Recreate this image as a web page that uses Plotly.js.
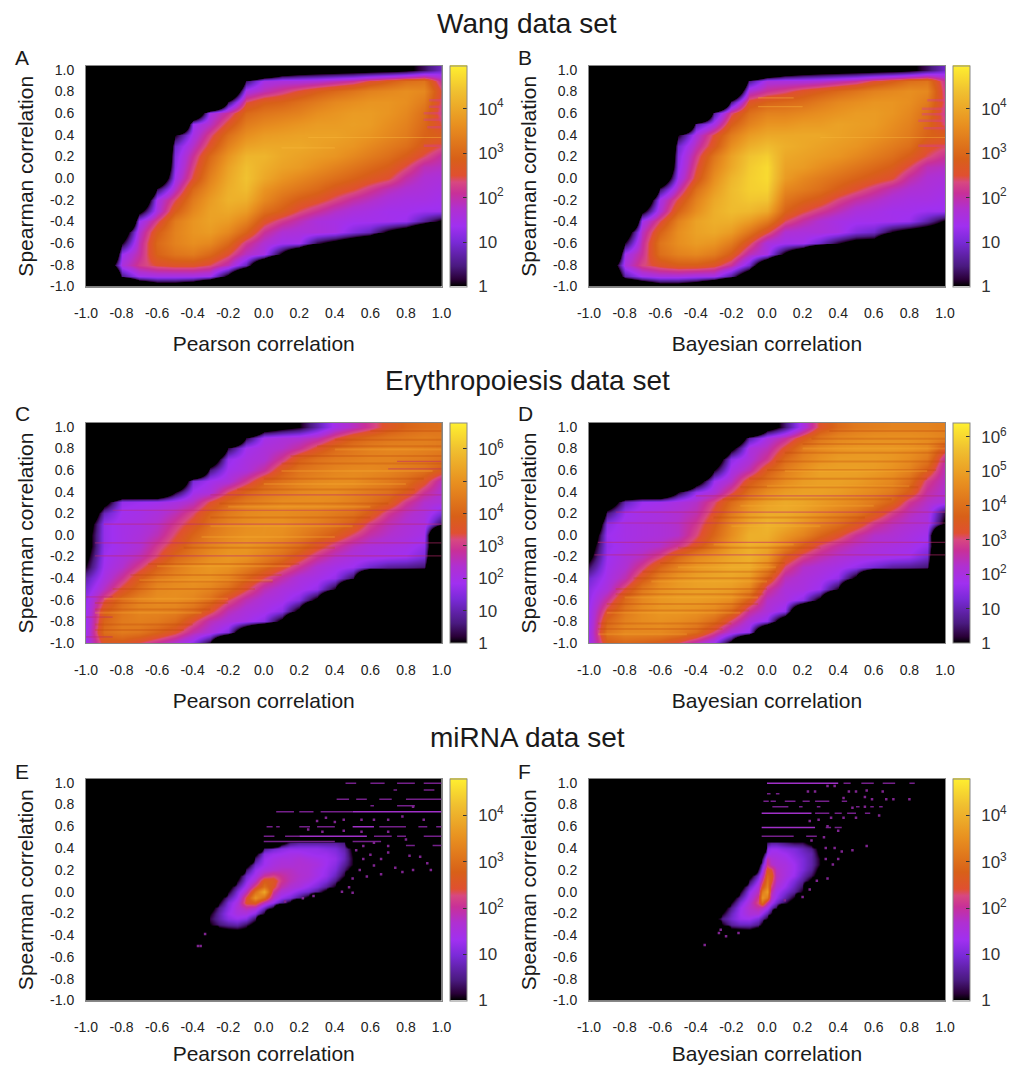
<!DOCTYPE html>
<html><head><meta charset="utf-8">
<script src="https://cdn.plot.ly/plotly-3.0.1.min.js"></script>
<style>html,body{margin:0;padding:0;background:#fff}#c{width:1023px;height:1065px}</style>
</head><body><div id="c"></div>
<script>
const N=-6,M=-4;
const n=k=>Array(k).fill(N), m=k=>Array(k).fill(M);
const axisVals=[-1,-.8,-.6,-.4,-.2,0,.2,.4,.6,.8,1];
const axisText=["-1.0","-0.8","-0.6","-0.4","-0.2","0.0","0.2","0.4","0.6","0.8","1.0"];
const gridX=[-1,-.9,-.8,-.7,-.6,-.5,-.4,-.3,-.2,-.1,0,.1,.2,.3,.4,.5,.6,.7,.8,.9,1];
const gridY=[1,.9,.8,.7,.6,.5,.4,.3,.2,.1,0,-.1,-.2,-.3,-.4,-.5,-.6,-.7,-.8,-.9,-1];
// log10(count), rows from y=1.0 down to y=-1.0; N = empty cell
const zA=[
[...n(10),-3.5,-1.5,-1,-.8,-.7,-.6,-.5,-.4,-.2,.3,.9],
[...n(9),.3,1.5,1.6,1.6,1.7,1.9,2.1,2.5,2.8,3.1,3.2,2],
[...n(8),-2.8,1.5,1.9,2.2,2.5,2.8,3,3.2,3.4,3.5,3.6,3.5,2.4],
[...n(8),.2,2.4,2.8,2.9,3.1,3.3,3.5,3.6,3.7,3.7,3.6,3.3,2.3],
[...n(6),-2.25,1.5,2.1,3,3.2,3.3,3.4,3.6,3.7,3.8,3.8,3.7,3.5,3.1,2.2],
[...n(5),-5.2,1.3,1.8,2.6,3.3,3.5,3.6,3.7,3.8,3.8,3.85,3.8,3.6,3.4,3,2.4],
[...n(5),0,1.5,2.3,3.1,3.6,3.8,3.85,3.9,3.9,3.9,3.8,3.7,3.5,3.3,2.9,2.8],
[...n(4),-5.1,.9,1.8,2.6,3.4,3.9,4,4,4,3.9,3.8,3.7,3.5,3.3,3.1,2.7,2.4],
[...n(4),-4.4,1.1,2.1,3,3.7,4.2,4.2,4,3.9,3.8,3.7,3.5,3.3,3.1,2.8,2.4,2],
[...n(4),-3.6,1.2,2.3,3.2,3.9,4.35,4.1,3.9,3.8,3.6,3.4,3.2,3,2.8,2.4,1.9,1.8],
[...n(4),-2.1,1.4,2.5,3.4,4,4.4,4,3.7,3.5,3.3,3.1,2.9,2.7,2.5,2,1.7,1.6],
[...n(4),.2,1.8,3,3.6,4.1,4.3,3.7,3.4,3.2,3,2.7,2.5,2.2,1.9,1.7,1.6,1.5],
[...n(3),-2.25,1.5,2.4,3.3,3.8,4.15,4.1,3.5,3.1,2.8,2.6,2.3,2,1.8,1.6,1.5,1.5,1.4],
[...n(3),-.4,1.6,2.8,3.5,3.9,4,3.8,3.1,2.8,2.4,2.1,1.8,1.6,1.5,1.4,1.4,1.3,1.3],
[...n(2),-5.2,1.3,2.3,3.3,3.7,3.9,3.8,3.4,2.6,2.2,1.9,1.6,1.5,1.4,1.4,1.4,1.3,.6,-.15],
[...n(2),-1.1,1.7,2.8,3.4,3.7,3.8,3.5,2.9,2.1,1.7,1.6,1.6,1.5,1.1,.8,-.15,-.9,-2.4,N],
[...n(2),0,1.9,3,3.4,3.6,3.5,3,2.2,1.7,1.4,1.4,.2,-.4,-1.1,-1.9,...n(4)],
[N,-5.2,1.3,2,2.9,3.2,3.3,3,2.5,1.8,1.5,-.15,-2.1,...n(8)],
[N,-2,1.6,2.2,2.5,2.6,2.6,2.4,1.9,.8,-2.25,...n(10)],
[N,N,.5,1.4,1.5,1.5,1.5,1.4,-.2,-3.2,...n(11)],
[N,N,N,-2.1,-1,-1,-1.5,-3.3,...n(13)]];
const zB=[
[...n(10),-3,-1.5,-1,-.8,-.7,-.6,-.5,-.4,-.2,.3,.9],
[...n(9),.5,1.6,1.6,1.6,1.7,1.9,2.1,2.5,2.8,3.1,3.2,2.1],
[...n(8),-3,1.7,2.1,2.3,2.6,2.8,3,3.2,3.4,3.5,3.6,3.5,2.2],
[...n(8),.4,2.6,2.9,3,3.1,3.3,3.5,3.6,3.7,3.7,3.6,3.3,2.3],
[...n(7),.6,2.3,3.1,3.4,3.4,3.5,3.6,3.7,3.8,3.8,3.7,3.5,3.1,2.2],
[...n(6),.6,1.5,2.8,3.4,3.7,3.7,3.8,3.8,3.9,3.85,3.8,3.6,3.4,3,2.3],
[...n(5),0,1.6,2.5,3.3,3.8,4,4,4,4,3.9,3.8,3.7,3.5,3.3,2.9,2.8],
[...n(4),-5.1,.9,1.9,2.7,3.6,4.1,4.3,4.1,4,3.9,3.8,3.7,3.5,3.3,3.1,2.6,2.4],
[...n(4),-4.4,1.1,2.2,3.2,3.9,4.4,4.55,4,3.9,3.8,3.7,3.5,3.3,3.1,2.8,2.4,2.1],
[...n(4),-3.6,1.2,2.4,3.4,4,4.5,4.7,3.9,3.8,3.6,3.4,3.2,3,2.8,2.4,1.9,1.8],
[...n(4),-1.8,1.4,2.6,3.6,4.2,4.55,4.7,3.8,3.5,3.3,3.1,2.9,2.7,2.5,2,1.7,1.6],
[...n(4),.3,1.9,3.1,3.8,4.3,4.55,4.6,3.5,3.3,3.1,2.8,2.5,2.2,1.9,1.7,1.6,1.5],
[...n(3),-2,1.5,2.5,3.4,4,4.3,4.45,4.4,3.2,2.9,2.7,2.3,2,1.8,1.6,1.5,1.5,1.4],
[...n(3),-.3,1.7,2.9,3.6,4.1,4.3,4.25,4,2.9,2.5,2.2,1.9,1.6,1.5,1.4,1.4,1.3,1.3],
[...n(2),-5.2,1.4,2.4,3.4,3.9,4.1,4.1,3.8,3.3,2.4,2,1.7,1.5,1.4,1.4,1.4,1.3,.7,-.1],
[...n(2),-1,1.8,2.9,3.6,3.9,4,3.8,3.2,2.5,1.7,1.6,1.6,1.5,1.1,.9,0,-.5,-.8,-1],
[...n(2),.1,2,3.2,3.6,3.8,3.7,3.3,2.5,1.6,1.4,1.4,.9,.1,-.5,-.6,-3,N,N,N],
[N,-5,1.4,2.1,3.1,3.4,3.5,3.3,2.8,1.9,1.5,-.2,-1.8,...n(8)],
[N,-1.8,1.6,2.3,2.6,2.8,2.8,2.6,2.1,1,-1.8,...n(10)],
[N,-3,.7,1.4,1.6,1.6,1.5,1.5,.6,-1.2,...n(11)],
[N,N,-3,-1.8,-.8,-.8,-1.3,-2.8,-5,...n(12)]];
const zC=[
[...n(10),-1.3,-.5,0,1,2,2.5,3,3.6,4,4.2,4.3],
[...n(9),.2,2,2.2,2.3,2.6,3.3,3.9,4.2,4.4,4.5,4.6,4.5],
[...n(8),.2,1.9,2.2,2.4,2.8,3.5,4.1,4.4,4.6,4.7,4.7,4.6,4.5],
[...n(7),-1.7,1.7,2.1,2.3,3,3.9,4.3,4.5,4.6,4.7,4.7,4.6,4.5,4.3],
[...n(6),-5.4,.6,1.9,2.2,2.8,3.8,4.3,4.5,4.7,4.8,4.8,4.7,4.5,4.3,3.8],
[...n(5),-3.3,1.4,1.9,2.2,3,3.9,4.3,4.6,4.8,4.9,4.9,4.7,4.5,4.2,3.6,2.5],
[N,N,-3,-3,-3,0,1.9,2.2,3.3,4,4.4,4.6,4.8,4.9,4.9,4.7,4.5,4.3,3.8,2.9,2.3],
[N,-.7,1.7,1.8,1.9,2.1,2.5,3.4,4.1,4.5,4.7,4.9,4.9,4.9,4.8,4.6,4.3,3.9,3,2.4,2.2],
[-2.6,1.1,1.9,2,2.2,2.6,3.2,4,4.5,4.8,4.9,4.9,4.8,4.7,4.5,4.3,3.8,3,2.5,2.2,1.4],
[-1.1,1.7,2,2.1,2.4,3,3.6,4.3,4.7,4.9,5,5,4.8,4.6,4.3,3.9,3.1,2.6,2.3,2.1,.3],
[-.7,1.7,2,2.2,2.6,3.3,4,4.5,4.8,5,5,4.9,4.6,4.2,3.8,3.2,2.7,2.4,2.2,2,N],
[-.7,1.7,2,2.3,3,3.6,4.3,4.7,5,5.1,4.9,4.6,4.2,3.6,3,2.5,2.2,2.1,2,1.7,-4.8],
[-.3,1.8,2.2,2.6,3.3,4.1,4.5,4.9,5.1,5,4.6,4.2,3.6,2.9,2.4,2.1,2,1.9,1.8,1.4,N],
[.1,1.9,2.4,3.1,3.9,4.5,4.9,5.1,5,4.6,4.1,3.5,2.9,2.3,2,1.8,1.2,.8,.7,.5,N],
[1,2.1,2.9,3.8,4.5,4.8,5,5,4.7,4,3.3,2.7,2.2,2,1.7,.3,N,-3.2,-3.2,-3.2,N],
[1.4,2.5,3.5,4.2,4.8,4.9,4.9,4.7,4.2,3.4,2.6,2.2,2,1.7,0,...n(6)],
[1.7,3.3,4.2,4.7,4.9,4.9,4.7,4.2,3.3,2.6,2.2,2,1.5,-.4,...n(7)],
[1.8,3.8,4.4,4.7,4.7,4.6,4.2,3.5,2.6,2.2,2,1.6,-.4,...n(8)],
[1.8,4,4.5,4.6,4.5,4.2,3.4,2.6,2.2,2,1.6,-.4,...n(9)],
[1.9,4.2,4.5,4.4,4,3.5,2.7,2.2,1.5,-2.25,...n(11)],
[1.9,3.6,3.7,3.3,2.8,2.3,1.6,0,...n(13)]];
const zD=[
[...n(10),-.9,.5,2,3.3,3.9,4.2,4.3,4.4,4.4,4.4,4.3],
[...n(8),-3.2,.8,2,2.6,3.5,4.2,4.5,4.6,4.7,4.7,4.7,4.6,4.4],
[...n(8),-.5,2,2.4,3.3,4.2,4.5,4.7,4.8,4.8,4.8,4.7,4.5,3.4],
[...n(7),-1.5,1.5,2.1,2.8,3.9,4.4,4.7,4.9,4.9,4.9,4.8,4.6,4.2,2.6],
[...n(7),0,1.9,2.5,3.6,4.3,4.7,5,5,5,4.9,4.7,4.4,3.6,2.4],
[...n(6),-1.1,1.7,2.3,3.5,4.1,4.6,4.9,5,5,4.9,4.7,4.5,4,2.9,2.3],
[N,N,-3,-3,-3,0,1.6,2.1,3,4,4.6,4.9,5,5,4.9,4.7,4.5,4.2,3.6,2.6,2.2],
[N,-1.5,1,1.7,1.8,2,2.3,3,3.9,4.6,5,5.2,5.1,4.9,4.7,4.5,4.2,3.7,2.8,2.3,2],
[N,.5,1.7,1.9,2,2.2,2.5,3.3,4.2,4.9,5.2,5.2,5,4.7,4.4,4.1,3.6,2.9,2.4,2.1,.2],
[-3.5,1.5,1.9,2,2.1,2.3,2.8,3.6,4.5,5.1,5.4,5.2,4.8,4.4,4,3.5,2.8,2.4,2.2,2,-.3],
[-1.7,1.7,1.9,2,2.1,2.3,3,3.8,4.6,5.3,5.3,4.8,4.4,3.8,3.3,2.7,2.3,2.2,2,1.8,N],
[-.8,1.6,1.9,2.1,2.3,2.8,3.4,4.2,4.9,5.3,5.1,4.4,3.6,3,2.6,2.3,2.1,2,1.9,1.6,-5],
[-.3,1.7,2.1,2.4,3,3.9,4.5,4.8,5.1,5.3,4.9,3.6,2.9,2.5,2.2,2,1.9,1.8,1.7,1.2,N],
[.4,1.8,2.2,2.9,3.8,4.4,4.8,5,5.2,5.2,4.5,3,2.3,2.1,1.9,1.6,1.2,.8,.7,.5,N],
[1.2,1.9,2.5,3.5,4.4,4.8,5,5.1,5.1,4.9,3.7,2.4,2.1,1.9,1.6,-.3,N,-3.2,-3.2,-3.2,N],
[1.5,2.1,3.2,4.2,4.7,4.9,5,5,4.9,4.5,2.8,2.1,2,1.7,0,...n(6)],
[1.6,2.7,3.9,4.5,4.8,4.9,4.9,4.8,4.6,3.6,2.3,2,1.5,-.4,...n(7)],
[1.7,3.3,4.2,4.6,4.8,4.8,4.7,4.5,3.9,2.7,2.1,1.6,-3.7,...n(8)],
[1.7,3.8,4.4,4.6,4.7,4.6,4.4,3.9,3,2.1,1.6,-1.6,...n(9)],
[1.8,4.1,4.5,4.5,4.5,4.3,3.9,3,2.1,1.6,-3.7,...n(10)],
[1.8,3.6,3.8,3.7,3.5,3.1,2.4,1.7,-.4,...n(12)]];
const blobYE=[.5,.45,.4,.35,.3,.25,.2,.15,.1,.05,0,-.05,-.1,-.15,-.2,-.25,-.3,-.35,-.4];
const blobXE=[-.35,-.3,-.25,-.2,-.15,-.1,-.05,0,.05,.1,.15,.2,.25,.3,.35,.4,.45,.5];
const zE=[
m(18),
[...m(9),-.5,.4,.6,.6,.6,.6,.6,.4,M],
[...m(7),.5,.9,1.1,1.2,1.2,1.2,1.2,1.1,1,.7,-.2],
[...m(6),-.3,1.1,1.25,1.3,1.4,1.4,1.3,1.25,1.25,1.1,.8,-.1],
[...m(6),.4,1.25,1.4,1.5,1.5,1.6,1.5,1.4,1.3,1.2,.8,0],
[...m(5),-.5,.9,1.3,1.5,1.6,1.6,1.65,1.6,1.5,1.3,1.1,.6,0],
[...m(5),.3,1.2,1.5,1.65,1.75,1.75,1.65,1.6,1.4,1.25,1,.4,-.4],
[...m(4),-.4,.9,1.4,2,2.2,2,1.8,1.7,1.6,1.4,1.2,.8,.1,M],
[...m(4),0,1.1,1.7,2.7,2.6,2.1,1.8,1.65,1.5,1.25,1,.5,-.4,M],
[...m(3),-.4,.6,1.4,2.3,3,2.5,1.9,1.65,1.5,1.25,1,.6,0,M,M],
[...m(3),0,1,1.8,3,3.9,2.1,1.6,1.4,1.1,.9,.5,-.3,M,M,M],
[M,M,-.4,.6,1.25,2.4,3.6,3,1.75,1.25,1,.5,-.2,...m(5)],
[M,M,0,1,1.5,2.5,2.7,1.8,1.25,.6,-.2,...m(7)],
[M,-.4,.5,1.1,1.6,1.9,1.75,.9,0,...m(9)],
[M,0,.7,1.25,1.5,1.5,1.1,0,...m(10)],
[M,.2,.7,1.1,1.25,1.1,.3,...m(11)],
[-.4,0,.4,.6,.7,.3,-.4,...m(11)],
[M,M,-.3,-.1,0,-.2,...m(12)],
m(18)];
const blobYF=blobYE;
const blobXF=[-.3,-.25,-.2,-.15,-.1,-.05,-.025,0,.025,.05,.1,.15,.2,.25,.3,.35];
const zF=[
m(16),
[...m(7),.3,.6,.6,.4,.2,.2,-.3,M,M],
[...m(7),1.1,1.25,1.25,1.1,1,.8,.5,-.3,M],
[...m(6),-.5,1.25,1.4,1.4,1.3,1.1,.9,.7,-.2,M],
[...m(6),.2,1.9,1.6,1.5,1.4,1.2,1,.7,0,M],
[...m(5),-.5,.9,2.1,1.75,1.6,1.5,1.3,1,.7,0,M],
[...m(5),.1,1.3,2.6,2.4,1.75,1.5,1.3,1,.6,-.3,M],
[...m(4),-.4,.9,1.7,2.9,2.7,1.8,1.5,1.25,.8,.3,-.5,M],
[...m(4),.2,1.25,2.1,3.1,2.5,1.75,1.4,1,.6,-.2,M,M],
[...m(3),-.5,.8,1.6,2.6,3.3,2.2,1.6,1.25,.8,.3,M,M,M],
[...m(3),0,1.2,1.8,3.2,3.7,1.9,1.4,1,.6,0,M,M,M],
[M,M,-.5,.6,1.4,2.1,3.6,3.2,1.7,1.25,.7,0,...m(4)],
[M,M,0,1,1.6,2.3,3,2,1.4,.9,.2,-.5,...m(4)],
[M,-.5,.5,1.25,1.7,1.9,1.8,1.4,.8,.2,...m(6)],
[M,0,.8,1.3,1.6,1.6,1.2,.7,0,...m(7)],
[-.5,.5,.9,1.25,1.3,1,.6,0,...m(8)],
[M,0,.6,.8,.8,.5,-.2,...m(9)],
[M,M,-.2,-.1,0,-.5,...m(10)],
m(16)];

// streak rows: y level and start/end of each run
const aLightY=[.375,.28],aLightX0=[.25,.1],aLightX1=[1,.4];
const aPinkY=[.72,.66,.6,.54,.47,.3],aPinkX0=[.93,.93,.9,.9,.92,.9],aPinkX1=[1,1,1,1,1,1];
const bLightY=[.375,.74,.66],bLightX0=[.3,-.05,-.05],bLightX1=[1,.15,.2];
const bPinkY=[.72,.64,.59,.53,.46,.3],bPinkX0=[.9,.87,.87,.85,.88,.85],bPinkX1=[1,1,1,1,1,1];
const cPinkY=[.228,.1,-.074,-.194,-.574,-.76,-.944,.68,.61,.37],cPinkX0=[-.85,-.9,-.95,-.95,-1,-1,-1,.75,.7,-.3],cPinkX1=[1,1,1,1,-.85,-.85,-.85,1,1,1];
const cDarkY=[.96,.88,.82,.73,.66,.52,.42,.29,.16,-.12,-.27,-.37,-.43,-.5,-.63,-.69,-.83,-.88],cDarkX0=[.6,.4,.3,.15,.1,0,-.15,-.25,-.3,-.45,-.65,-.75,-.7,-.85,-.95,-.95,-.95,-.95],cDarkX1=[1,1,1,1,1,.9,.85,.7,.6,.4,.2,.1,.05,-.05,-.2,-.3,-.4,-.45];
const cLightY=[.79,.59,.47,.26,.08,-.02,-.29,-.42,-.59,-.72],cLightX0=[.4,.1,0,-.2,-.3,-.35,-.6,-.7,-.9,-.95],cLightX1=[1,.95,.8,.6,.5,.4,.15,.05,-.2,-.35];
const dPinkY=[.21,.11,-.07,-.185,.36],dPinkX0=[-.85,-.9,-.95,-.97,-.4],dPinkX1=[1,1,1,1,1];
const dDarkY=[.96,.89,.84,.76,.68,.6,.52,.44,.33,.16,-.12,-.26,-.34,-.4,-.5,-.55,-.64,-.7,-.82,-.87],dDarkX0=[.35,.25,.2,.1,.05,0,-.1,-.15,-.25,-.3,-.5,-.6,-.7,-.75,-.85,-.85,-.9,-.9,-.95,-.95],dDarkX1=[1,1,1,1,1,.95,.9,.85,.7,.55,.3,.1,.05,.03,0,-.02,-.05,-.1,-.2,-.25];
const dLightY=[.8,.59,.45,.27,.08,-.09,-.3,-.43,-.58,-.72,-.92],dLightX0=[.2,.1,0,-.15,-.2,-.3,-.5,-.65,-.8,-.9,-.95],dLightX1=[1,.9,.8,.6,.3,.15,.05,0,-.05,-.15,-.45];

const eRunY=[.735,.735,.735,.596,.596,.596,.596,.596,.596,.596,.51,.51,.51,.51,.51,.46,.46,.425,.425,.85,.85,.85,.85,.995,.995,.995,.995,.935,.935,.79,.79];
const eRunX0=[.07,.2,.32,.016,.07,.2,.3,.65,.87,.97,0,.12,.62,.75,.9,0,.5,.8,.95,.41,.52,.65,.8,.46,.6,.75,.9,.73,.9,.6,.75];
const eRunX1=[.17,.28,.5,.05,.09,.26,.4,.8,.92,1,.06,.2,.72,.8,1,.4,.66,.85,1,.48,.58,.72,1,.52,.68,.85,1,.75,.96,.62,.85];
const eBrightY=[.735,.596,.51],eBrightX0=[.5,.5,.2],eBrightX1=[1,.62,.58];
const eDotX=[.52,.56,.6,.62,.66,.7,.74,.78,.84,.88,.92,.94,.82,.66,.58,.54,.5,.48,.44,.5,.28,.22,.12,.62,.7,.78,.84,.9,.55,.45,.4,.35,.3,.33,.45,.55,.7,.8,.62,.56,.7,.25,-.37,-.355,-.33];
const eDotY=[.38,.3,.34,.24,.3,.36,.22,.18,.2,.32,.26,.2,.33,.16,.14,.2,.12,.04,0,-.01,-.04,-.06,-.09,.66,.66,.69,.78,.66,.66,.66,.64,.68,.65,.55,.56,.55,.55,.48,.45,.42,.42,.57,-.5,-.5,-.39];
const fRunY=[.995,.995,.995,.995,.72,.72,.72,.72,.59,.59,.51,.51,.83,.83,.83,.83,.83,.83,.78,.78,.78,.78,.78,.78,.9,.9];
const fRunX0=[.43,.53,.65,.8,.27,.38,.45,.55,.33,.38,-.03,.22,-.02,.02,.1,.2,.27,.42,.03,.18,.28,.5,.58,.63,0,.05];
const fRunX1=[.47,.6,.72,.83,.35,.42,.5,.58,.36,.42,.15,.28,.01,.05,.16,.24,.35,.45,.12,.2,.3,.52,.6,.65,.02,.07];
const fBrightY=[.995,.72,.59],fBrightX0=[0,-.03,-.03],fBrightX1=[.4,.25,.27];
const fDotX=[.23,.27,.34,.38,.46,.5,.56,.55,.65,.43,.59,.67,.71,.8,.48,.55,.63,.5,.43,.36,.29,.24,.34,.4,.32,.25,.33,.38,.48,.56,.42,.4,.33,.37,.34,.24,.28,.2,.1,-.35,-.26,-.27,-.23,-.16];
const fDotY=[.92,.92,.97,.97,.92,.92,.93,.87,.92,.86,.85,.85,.85,.85,.77,.78,.7,.68,.68,.68,.66,.65,.6,.56,.5,.47,.4,.4,.38,.42,.37,.3,.3,.25,.12,.02,.1,-.05,-.08,-.49,-.35,-.38,-.41,-.38];

const colorStops=[[0,'#000000'],[.03,'#2a0038'],[.09,'#4a1a80'],[.2,'#7a2ad8'],[.27,'#a030f0'],[.35,'#b030d0'],[.42,'#c83098'],[.47,'#d84880'],[.5,'#e05030'],[.575,'#d86018'],[.73,'#e89020'],[.88,'#f0c030'],[1,'#fff030']];
const W=1023,H=1065;
const family='Liberation Sans, Arial, sans-serif';
const titleFont={family,size:21,color:'#1a1a1a'};
const tickFont={family,size:14,color:'#222'};
const cbGap='\u2009\u2009';
const cbText=['1','10','10<sup>2</sup>','10<sup>3</sup>','10<sup>4</sup>','10<sup>5</sup>','10<sup>6</sup>'];
const panels=[
 {l:86,r:441.5,t:66,b:286.5,cb:450,x:gridX,y:gridY,z:zA,zmax:4.97,xt:'Pearson correlation',tag:'A',tx:13,ty:58},
 {l:589,r:945,t:66,b:286.5,cb:952.5,x:gridX,y:gridY,z:zB,zmax:4.97,xt:'Bayesian correlation',tag:'B',tx:516,ty:58},
 {l:86,r:441.5,t:423,b:643,cb:450,x:gridX,y:gridY,z:zC,zmax:6.8,xt:'Pearson correlation',tag:'C',tx:13,ty:414},
 {l:589,r:945,t:423,b:643,cb:952.5,x:gridX,y:gridY,z:zD,zmax:6.4,xt:'Bayesian correlation',tag:'D',tx:516,ty:414},
 {l:86,r:441.5,t:779,b:1000.5,cb:450,x:blobXE,y:blobYE,z:zE,zmax:4.8,xt:'Pearson correlation',tag:'E',tx:13,ty:771},
 {l:589,r:945,t:779,b:1000.5,cb:952.5,x:blobXF,y:blobYF,z:zF,zmax:4.8,xt:'Bayesian correlation',tag:'F',tx:516,ty:771}];
const data=[],layout={width:W,height:H,paper_bgcolor:'#fff',plot_bgcolor:'#000',showlegend:false,margin:{l:0,r:0,t:0,b:0,autoexpand:false},annotations:[]};
function runs(ys,x0,x1,color,width,ax,ay){
  const X=[],Y=[];ys.forEach((v,i)=>{X.push(x0[i],x1[i],null);Y.push(v,v,null);});
  data.push({type:'scatter',mode:'lines',x:X,y:Y,xaxis:ax,yaxis:ay,line:{color,width},hoverinfo:'skip',connectgaps:false});
}
function dots(xs,ys,ax,ay){
  data.push({type:'scatter',mode:'markers',x:xs,y:ys,xaxis:ax,yaxis:ay,marker:{symbol:'square',size:2.5,color:'#7f2490'},hoverinfo:'skip'});
}
const overlay=[
 ()=>{runs(aLightY,aLightX0,aLightX1,'rgba(250,185,60,.45)',1.2,'x','y');runs(aPinkY,aPinkX0,aPinkX1,'rgba(215,60,150,.4)',2.5,'x','y');},
 ()=>{runs(bLightY,bLightX0,bLightX1,'rgba(250,185,60,.4)',1.2,'x2','y2');runs(bPinkY,bPinkX0,bPinkX1,'rgba(215,60,150,.4)',2.5,'x2','y2');},
 ()=>{runs(cDarkY,cDarkX0,cDarkX1,'rgba(190,70,10,.28)',2,'x3','y3');runs(cLightY,cLightX0,cLightX1,'rgba(250,180,50,.25)',2,'x3','y3');runs(cPinkY,cPinkX0,cPinkX1,'rgba(190,40,110,.5)',1.2,'x3','y3');},
 ()=>{runs(dDarkY,dDarkX0,dDarkX1,'rgba(190,70,10,.28)',2,'x4','y4');runs(dLightY,dLightX0,dLightX1,'rgba(250,180,50,.25)',2,'x4','y4');runs(dPinkY,dPinkX0,dPinkX1,'rgba(190,40,110,.5)',1.2,'x4','y4');},
 ()=>{runs(eRunY,eRunX0,eRunX1,'#74208a',1.5,'x5','y5');runs(eBrightY,eBrightX0,eBrightX1,'#a030c8',1.5,'x5','y5');dots(eDotX,eDotY,'x5','y5');},
 ()=>{runs(fRunY,fRunX0,fRunX1,'#74208a',1.5,'x6','y6');runs(fBrightY,fBrightX0,fBrightX1,'#a030c8',1.5,'x6','y6');dots(fDotX,fDotY,'x6','y6');}];
panels.forEach((p,i)=>{
  const s=i?String(i+1):'';
  const ticks=cbText.map((t,k)=>k).filter(k=>k<=p.zmax);
  data.push({type:'heatmap',x:p.x,y:p.y.slice().reverse(),z:p.z.slice().reverse(),zmin:0,zmax:p.zmax,zsmooth:'best',
    colorscale:colorStops,hoverinfo:'skip',xaxis:'x'+s,yaxis:'y'+s,
    colorbar:{x:p.cb/W,xref:'paper',xanchor:'left',xpad:0,ypad:0,y:1-p.b/H,yref:'paper',yanchor:'bottom',
      len:p.b-p.t,lenmode:'pixels',thickness:17,thicknessmode:'pixels',outlinecolor:'#888',outlinewidth:1,borderwidth:0,
      tickmode:'array',tickvals:ticks,ticktext:ticks.map(k=>cbGap+cbText[k]),ticks:'inside',ticklen:4,tickcolor:'#333',
      tickfont:{family,size:17,color:'#333'}}});
  overlay[i]();
  layout['xaxis'+s]={domain:[p.l/W,p.r/W],anchor:'y'+s,range:[-1,1],tickmode:'array',tickvals:axisVals,ticktext:axisText,ticks:'',ticklabelstandoff:14,
    tickfont:tickFont,showgrid:false,zeroline:false,showline:true,mirror:true,linecolor:'#888',linewidth:1,
    title:{text:p.xt,font:titleFont,standoff:16}};
  layout['yaxis'+s]={domain:[1-p.b/H,1-p.t/H],anchor:'x'+s,range:[-1,1.035],tickmode:'array',tickvals:axisVals,ticktext:axisText,ticks:'',ticklabelstandoff:8,
    tickfont:tickFont,showgrid:false,zeroline:false,showline:true,mirror:true,linecolor:'#888',linewidth:1,
    title:{text:'Spearman correlation',font:titleFont,standoff:10}};
  layout.annotations.push({xref:'paper',yref:'paper',x:p.tx/W,y:1-p.ty/H,xanchor:'left',yanchor:'middle',showarrow:false,text:p.tag,font:{family,size:21,color:'#1a1a1a'}});
});
const sectionTitles=['Wang data set','Erythropoiesis data set','miRNA data set'];
const sectionY=[24,380,737];
sectionTitles.forEach((t,i)=>layout.annotations.push({xref:'paper',yref:'paper',x:527/W,y:1-sectionY[i]/H,xanchor:'center',yanchor:'middle',showarrow:false,text:t,font:{family,size:28,color:'#1a1a1a'}}));
Plotly.newPlot('c',data,layout,{displayModeBar:false,staticPlot:true});
</script></body></html>
